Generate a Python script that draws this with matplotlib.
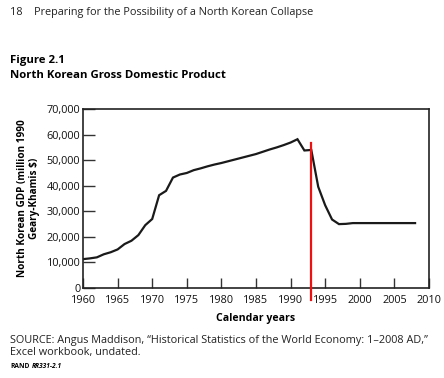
import matplotlib
matplotlib.use('Agg')
import matplotlib.pyplot as plt
from matplotlib.ticker import FuncFormatter

FONT = 'Open Sans'
plt.rcParams['font.family'] = [FONT, 'DejaVu Sans']

# GDP (million 1990 Geary-Khamis $)
years = list(range(1960, 2009))
gdp = [11300, 11600, 12000, 13200, 14000, 15100, 17200, 18500, 20700, 24600,
       27000, 36300, 38000, 43200, 44400, 45000, 46100, 46800, 47600, 48300,
       48900, 49600, 50300, 51000, 51700, 52400, 53300, 54200, 55000, 55900,
       56900, 58200, 53800, 54000, 39600, 32400, 26800, 25000, 25100, 25400,
       25400, 25400, 25400, 25400, 25400, 25400, 25400, 25400, 25400]

x_ticks = list(range(1960, 2011, 5))
y_ticks = list(range(0, 70001, 10000))
marker_year = 1993
marker_range = [-4700, 56900]

fig = plt.figure(figsize=(4.44, 3.78), dpi=100)
ax = fig.add_axes([0.187, 0.238, 0.779, 0.4735])

ax.plot(years, gdp, color='#1a1a1a', linewidth=1.6, solid_joinstyle='miter')
ax.plot([marker_year, marker_year], marker_range, color='#ee1111',
        linewidth=1.6, clip_on=False, zorder=5)

ax.set_xlim(1960, 2010)
ax.set_ylim(0, 70000)
ax.set_xticks(x_ticks)
ax.set_yticks(y_ticks)
ax.yaxis.set_major_formatter(FuncFormatter(lambda v, p: f'{int(v):,}'))
ax.tick_params(direction='in', length=8.5, width=1.0, color='#333333',
               labelsize=7.8, pad=2, labelcolor='#111111')
ax.tick_params(axis='x', length=7, pad=5)
for s in ax.spines.values():
    s.set_linewidth(1.2)
    s.set_color('#222222')

ax.set_xlabel('Calendar years', fontsize=7.6, fontweight='bold', labelpad=5)
ax.set_ylabel('North Korean GDP (million 1990\nGeary-Khamis $)', fontsize=7.2,
              fontweight='bold', linespacing=1.05, labelpad=5)

fig.text(10 / 444, 1 - 12 / 378, '18    Preparing for the Possibility of a North Korean Collapse',
         fontsize=7.8, va='center', ha='left', color='#222222')
fig.text(10 / 444, 1 - 60 / 378, 'Figure 2.1', fontsize=8.2, fontweight='bold',
         va='center', ha='left')
fig.text(10 / 444, 1 - 75 / 378, 'North Korean Gross Domestic Product', fontsize=8.2,
         fontweight='bold', va='center', ha='left')
fig.text(10 / 444, 1 - 340 / 378,
         'SOURCE: Angus Maddison, \u201cHistorical Statistics of the World Economy: 1\u20132008 AD,\u201d',
         fontsize=7.8, va='center', ha='left', color='#222222')
fig.text(10 / 444, 1 - 353 / 378, 'Excel workbook, undated.', fontsize=7.8,
         va='center', ha='left', color='#222222')
fig.text(10 / 444, 1 - 366 / 378, 'RAND', fontsize=4.8, fontweight='bold',
         va='center', ha='left')
fig.text(32 / 444, 1 - 366 / 378, 'RR331-2.1', fontsize=4.8, fontweight='bold',
         style='italic', va='center', ha='left')

fig.savefig('out.png', dpi=100, facecolor='white')
